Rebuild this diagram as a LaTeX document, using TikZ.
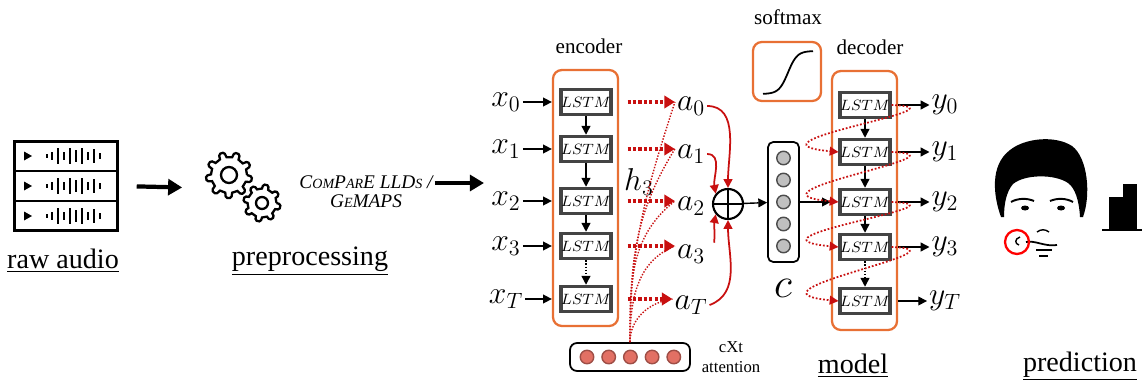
\RequirePackage{fix-cm}
\documentclass[tikz,border=0pt]{standalone}
\usepackage{fontspec}
\setmainfont{Liberation Serif}
\usepackage{xcolor}
\usetikzlibrary{arrows.meta,calc,positioning}

\definecolor{boxorange}{RGB}{232,112,52}
\definecolor{attred}{RGB}{200,16,16}
\definecolor{lstmgray}{RGB}{68,68,68}
\definecolor{unitgray}{RGB}{192,192,192}
\definecolor{unitred}{RGB}{226,112,100}

% fake small capitals
\newcommand{\fsc}[1]{{\fontsize{8}{8}\selectfont #1}}

% gear outline: teeth, inner r, outer r, gap angle, slope angle, hole r
\newcommand{\gearpath}[6]{%
  (0:#2)
  \foreach \i [evaluate=\i as \n using {(\i-1)*360/#1}] in {1,...,#1}{%
    arc (\n:\n+#4:#2) {[rounded corners=0.8pt] -- (\n+#4+#5:#3)
    arc (\n+#4+#5:\n+360/#1-#5:#3)} -- (\n+360/#1:#2)
  }%
  (0,0) circle[radius=#6]
}

\tikzset{
  lstm/.style={draw=lstmgray, line width=2pt, fill=white, minimum width=0.86cm,
    minimum height=0.5cm, inner sep=0pt, font=\fontsize{8.5}{9}\selectfont},
  block/.style={draw=boxorange, line width=1.3pt, rounded corners=5pt},
  var/.style={inner sep=1pt, font=\fontsize{18}{18}\selectfont},
  lbl/.style={font=\fontsize{12}{12}\selectfont},
  caption/.style={font=\fontsize{16}{16}\selectfont},
  unit/.style={circle, draw, line width=0.8pt, minimum size=0.27cm, inner sep=0pt},
  arr/.style={-{Triangle[length=5pt,width=5pt]}, line width=0.8pt},
  bigarr/.style={-{Triangle[length=8pt,width=9pt]}, line width=2.4pt},
  attn/.style={attred, line width=1.8pt, dash pattern=on 1.8pt off 1.3pt,
    -{Triangle[length=6pt,width=7pt,sep=0pt]}},
  attcurve/.style={attred, line width=0.8pt, dash pattern=on 0.8pt off 0.9pt},
  sumarr/.style={attred, line width=1pt, -{Triangle[length=5pt,width=5pt]}},
  recur/.style={attred, line width=1pt, dash pattern=on 1pt off 1.1pt,
    -{Triangle[length=5pt,width=5pt]}},
}

\begin{document}
\begin{tikzpicture}[x=0.02cm, y=-0.02cm]
    \useasboundingbox (0,0) rectangle (1142,385);

    % Raw audio icon
    \node[draw, line width=1.7pt, minimum width=2.05cm, minimum height=1.77cm, inner sep=0pt] (audio) at (66,186) {};
    \draw[line width=1.7pt] (audio.west |- 0,171) -- (audio.east |- 0,171);
    \draw[line width=1.7pt] (audio.west |- 0,201) -- (audio.east |- 0,201);
    \foreach \r in {156,186,216} {
        \fill (24,\r-4.5) -- (32,\r) -- (24,\r+4.5) -- cycle;
        \foreach \bx/\bh in {47/2,52/4,58/8,64/4,70/8,76/6,82/8,88/4,94/7,100/3}
            \draw[line width=1.5pt] (\bx,\r-\bh) -- (\bx,\r+\bh);
    }
    \node[caption] (rawcap) at (63,261) {\underline{raw audio}};

    % Preprocessing gears
    \node[minimum width=1.5cm, minimum height=1.4cm] (gears) at (243,188) {};
    \draw[line width=1.3pt, shift={(229,175)}] \gearpath{9}{0.36cm}{0.46cm}{18}{4}{0.16cm};
    \draw[line width=1.3pt, shift={(262,203)}] \gearpath{8}{0.29cm}{0.37cm}{20}{4}{0.12cm};
    \node[caption] (precap) at (310,261) {\underline{preprocessing}};
    \draw[bigarr, shorten <=0.36cm, shorten >=0.46cm] (audio.east) -- (gears.west);

    % Feature sets
    \node[font=\fontsize{11}{11}\selectfont\itshape, align=center, inner sep=1pt] (feat) at (366,192)
        {C\fsc{OM}P\fsc{AR}E LLD\fsc{S} /\\G\fsc{E}MAPS};
    \coordinate (featin) at (484,183);
    \draw[bigarr] (feat.east |- featin) -- (featin);

    % Encoder
    \node[block, minimum width=1.3cm, minimum height=5.12cm] (encoder) at (585.5,198) {};
    \node[lbl] (enclabel) at (589,46) {encoder};
    \foreach \i/\y/\s in {0/102/0,1/149/1,2/201/2,3/246/3,4/299/T} {
        \node[lstm] (enc\i) at (586,\y) {$LSTM$};
        \node[var] (x\i) at (506,\y) {$x_\s$};
        \draw[arr] (x\i) -- (x\i -| encoder.west);
    }
    \foreach \i/\j in {0/1,1/2,2/3}
        \draw[arr] (enc\i) -- (enc\j);
    \draw[arr, densely dotted] (enc3) -- (enc4);

    % Attention weights
    \foreach \i/\y/\s in {0/106/0,1/154/1,2/206/2,3/254/3,4/305/T}
        \node[var] (a\i) at (691,\y) {$a_\s$};
    \node[var] (h3) at (639,182) {$h_3$};

    \node[draw, rounded corners=4pt, line width=1pt, minimum width=2.4cm, minimum height=0.56cm] (att) at (630,357) {};
    \foreach \k in {0,...,4}
        \node[unit, fill=unitred, draw=unitred!70!black] (att\k) at (587+21.7*\k,357) {};
    \node[font=\fontsize{9.5}{11.3}\selectfont, align=center] (attlabel) at (731,357) {cXt\\attention};

    \foreach \i/\a in {0/252,1/238,2/218,3/202,4/188}
        \draw[attcurve] (att.north) to[out=90, in=\a] (enc\i.east -| a\i.west);
    \foreach \i in {0,...,4}
        \draw[attn, shorten <=0.3cm] (enc\i.east) -- (enc\i.east -| a\i.west);

    % Weighted sum
    \node[circle, draw, line width=1.2pt, minimum size=0.6cm, inner sep=0pt] (plus) at (728,204) {};
    \draw[line width=1.2pt] (plus.north) -- (plus.south) (plus.west) -- (plus.east);
    \draw[sumarr] (a0.east) to[out=0, in=90] (plus.north);
    \draw[sumarr] (a1.east) to[out=0, in=100] (plus.140);
    \draw[sumarr] ([xshift=4pt]a3.north east) to[out=85, in=-100] (plus.220);
    \draw[sumarr] (a4.east) to[out=20, in=-90] (plus.south);

    % Context vector
    \node[draw, rounded corners=3pt, line width=1pt, minimum width=0.62cm, minimum height=2.4cm] (cvec) at (783.5,202) {};
    \foreach \k in {0,...,4}
        \node[unit, fill=unitgray, draw=black!70] (c\k) at (783.5,158+22*\k) {};
    \node[font=\fontsize{24}{24}\selectfont] (clabel) at (783,288) {$c$};
    \draw[arr] (plus) -- (cvec);

    % Softmax
    \node[block, minimum width=1.36cm, minimum height=1.18cm] (softmax) at (787,71.5) {};
    \node[lbl] (smlabel) at (788,17) {softmax};
    \draw[line width=1pt] plot[domain=-5:5, smooth, samples=40] ({788+5*\x}, {94-43/(1+exp(-1.1*\x))});

    % Decoder
    \node[block, minimum width=1.3cm, minimum height=5.18cm] (decoder) at (864.5,200.5) {};
    \node[lbl] (declabel) at (870,47) {decoder};
    \foreach \i/\y/\s in {0/105/0,1/152/1,2/202/2,3/247/3,4/301/T} {
        \node[lstm] (dec\i) at (865,\y) {$LSTM$};
        \node[var] (y\i) at (945,\y) {$y_\s$};
        \draw[arr] (dec\i -| decoder.east) -- (y\i);
    }
    \foreach \i/\j in {0/1,1/2,2/3}
        \draw[arr] (dec\i) -- (dec\j);
    \draw[arr, densely dotted] (dec3) -- (dec4);
    \draw[arr] (cvec) -- (cvec -| decoder.west);
    \foreach \i/\j in {0/1,1/2,2/3,3/4}
        \draw[recur] (dec\i.east) .. controls +(85,3) and +(-107,-10) .. (dec\j.west);
    \node[caption] (modelcap) at (853,366) {\underline{model}};

    % Prediction: face and bars
    \fill (1001,217) .. controls (993,195) and (990,165) .. (1010,150)
        .. controls (1025,138) and (1055,135) .. (1072,146)
        .. controls (1088,158) and (1091,195) .. (1083,217)
        -- (1080,217) .. controls (1079,200) and (1075,188) .. (1068,183)
        .. controls (1055,174) and (1025,174) .. (1013,184)
        .. controls (1006,192) and (1004,205) .. (1004,217) -- cycle;
    \draw[line width=1.1pt] (1011,202) .. controls (1018,198) and (1027,198) .. (1034,201);
    \draw[line width=1.1pt] (1050,201) .. controls (1057,198) and (1066,198) .. (1073,202);
    \fill (1025,208) ellipse[x radius=0.08cm, y radius=0.05cm];
    \fill (1061,208) ellipse[x radius=0.08cm, y radius=0.05cm];
    \draw[line width=0.8pt] (1037,232) .. controls (1041,229) and (1045,229) .. (1049,232);
    \draw[line width=1pt] (1026,242) .. controls (1035,240) and (1045,247) .. (1057,245);
    \draw[line width=1pt] (1036,250) -- (1052,250);
    \draw[line width=1pt] (1039,256) -- (1048,256);
    \draw[line width=0.8pt] (1020,237) .. controls (1014,239) and (1015,244) .. (1019,245);
    \draw[red, line width=1.3pt] (1017,242) circle[radius=0.24cm];
    \fill (1109,230) rectangle (1123,197);
    \fill (1123,230) rectangle (1137,184);
    \draw[line width=0.8pt] (1102,230) -- (1142,230);
    \node[caption] (predcap) at (1080,366) {\underline{prediction}};
\end{tikzpicture}
\end{document}
